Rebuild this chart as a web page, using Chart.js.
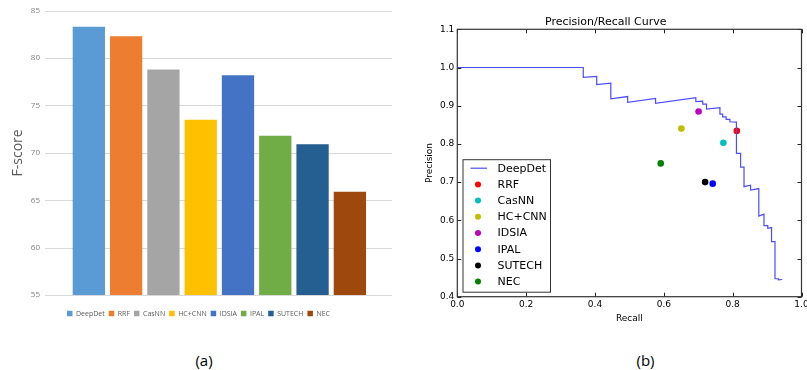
<!DOCTYPE html>
<html>
<head>
<meta charset="utf-8">
<script src="https://cdn.jsdelivr.net/npm/chart.js@4.4.1/dist/chart.umd.min.js"></script>
<style>
  html, body { margin: 0; padding: 0; background: #fff; width: 807px; height: 370px; overflow: hidden; position: relative; }
  #barWrap { position: absolute; left: 0; top: 0; width: 400px; height: 335px; }
  #prWrap { position: absolute; left: 410px; top: 0; width: 410px; height: 340px; }
  .cap { position: absolute; top: 349px; width: 40px; text-align: center; font-family: "Open Sans", sans-serif; font-size: 15px; color: #000; line-height: 22px; }
</style>
</head>
<body>
<div id="barWrap"><canvas id="bar" width="400" height="335"></canvas></div>
<div id="prWrap"><canvas id="pr" width="410" height="340"></canvas></div>
<div class="cap" style="left:184px">(a)</div>
<div class="cap" style="left:625.5px">(b)</div>
<script>
// ---------- data: bar chart (a) ----------
const methods = ['DeepDet', 'RRF', 'CasNN', 'HC+CNN', 'IDSIA', 'IPAL', 'SUTECH', 'NEC'];
const fScores = [83.3, 82.3, 78.8, 73.5, 78.2, 71.8, 70.9, 65.9];
const barColors = ['#5B9BD5', '#ED7D31', '#A5A5A5', '#FFC000', '#4472C4', '#70AD47', '#255E91', '#9E480E'];

// ---------- data: precision/recall (b) ----------
const curveRecall = [0.0, 0.366, 0.366, 0.405, 0.405, 0.446, 0.446, 0.495, 0.495, 0.576, 0.576, 0.693, 0.693, 0.713, 0.713, 0.724, 0.724, 0.763, 0.763, 0.771, 0.771, 0.781, 0.781, 0.792, 0.792, 0.811, 0.811, 0.823, 0.823, 0.833, 0.833, 0.852, 0.852, 0.876, 0.876, 0.891, 0.891, 0.902, 0.902, 0.913, 0.913, 0.923, 0.923, 0.933, 0.933, 0.944];
const curvePrecision = [1.0, 1.0, 0.974, 0.977, 0.955, 0.959, 0.918, 0.924, 0.909, 0.919, 0.906, 0.921, 0.911, 0.912, 0.904, 0.904, 0.891, 0.895, 0.878, 0.878, 0.871, 0.871, 0.864, 0.864, 0.858, 0.857, 0.775, 0.775, 0.739, 0.739, 0.688, 0.692, 0.679, 0.683, 0.611, 0.616, 0.586, 0.586, 0.579, 0.581, 0.544, 0.544, 0.447, 0.447, 0.444, 0.445];
const pointMethods = ['RRF', 'CasNN', 'HC+CNN', 'IDSIA', 'IPAL', 'SUTECH', 'NEC'];
const pointRecall = [0.812, 0.773, 0.651, 0.701, 0.742, 0.720, 0.591];
const pointPrecision = [0.834, 0.803, 0.840, 0.885, 0.696, 0.700, 0.749];
const pointColors = ['#ff0000', '#00bfbf', '#bfbf00', '#bf00bf', '#0000ff', '#000000', '#008000'];
const xTickLabels = ['0.0', '0.2', '0.4', '0.6', '0.8', '1.0'];
const yTickLabels = ['0.4', '0.5', '0.6', '0.7', '0.8', '0.9', '1.0', '1.1'];

// ---------- chart (a) ----------
const gridPlugin = {
  id: 'extGrid',
  beforeDatasetsDraw(chart) {
    const ys = chart.scales.y, ctx = chart.ctx;
    ctx.save();
    ctx.strokeStyle = '#d9d9d9';
    ctx.lineWidth = 1;
    ys.ticks.forEach(t => {
      const y = Math.round(ys.getPixelForValue(t.value)) + 0.5;
      ctx.beginPath();
      ctx.moveTo(45, y);
      ctx.lineTo(392, y);
      ctx.stroke();
    });
    ctx.restore();
  }
};

new Chart(document.getElementById('bar'), {
  type: 'bar',
  data: {
    labels: methods,
    datasets: [{
      label: 'F-score',
      data: fScores,
      backgroundColor: barColors,
      borderWidth: 0,
      barPercentage: 0.866,
      categoryPercentage: 1.0
    }]
  },
  options: {
    responsive: false,
    animation: false,
    layout: { padding: { left: 28.5, right: 31.5, top: 10.7, bottom: 8 } },
    scales: {
      x: {
        display: true, offset: true,
        ticks: { display: false },
        grid: { display: false, drawTicks: false },
        border: { display: false },
        afterFit: s => { s.height = 11; }
      },
      y: {
        min: 55, max: 85,
        ticks: { stepSize: 5, font: { family: 'Open Sans', size: 8 }, color: '#7f7f7f', padding: 3 },
        grid: { display: true, drawOnChartArea: false, drawTicks: true, tickLength: 27.2, color: 'rgba(0,0,0,0)' },
        border: { display: false },
        title: { display: true, text: 'F-score', font: { family: 'Open Sans', size: 14 }, color: '#595959', padding: { top: -18.6, bottom: 0 } },
        afterFit: s => { s.width = 41.7; }
      }
    },
    plugins: {
      tooltip: { enabled: false },
      legend: {
        position: 'bottom',
        labels: {
          font: { family: 'Open Sans', size: 7 },
          color: '#595959',
          boxWidth: 5.5, boxHeight: 5.5, padding: 4,
          generateLabels: chart => {
            const ds = chart.data.datasets[0];
            return chart.data.labels.map((l, i) => ({
              text: l, fillStyle: ds.backgroundColor[i], strokeStyle: ds.backgroundColor[i],
              lineWidth: 0, hidden: false, index: i, fontColor: '#595959'
            }));
          }
        }
      }
    }
  },
  plugins: [gridPlugin]
});

// ---------- chart (b) ----------
const framePlugin = {
  id: 'mplFrame',
  afterDatasetsDraw(chart) {
    const {ctx, chartArea: a} = chart;
    const xs = chart.scales.x, ys = chart.scales.y;
    ctx.save();
    ctx.strokeStyle = '#222';
    ctx.lineWidth = 1;
    ctx.beginPath();
    xs.ticks.forEach(t => {
      const x = Math.round(xs.getPixelForValue(t.value)) + 0.5;
      ctx.moveTo(x, a.bottom); ctx.lineTo(x, a.bottom - 4);
      ctx.moveTo(x, a.top); ctx.lineTo(x, a.top + 4);
    });
    ys.ticks.forEach(t => {
      const y = Math.round(ys.getPixelForValue(t.value)) + 0.5;
      ctx.moveTo(a.left, y); ctx.lineTo(a.left + 4, y);
      ctx.moveTo(a.right, y); ctx.lineTo(a.right - 4, y);
    });
    ctx.stroke();
    ctx.strokeStyle = '#333';
    ctx.lineWidth = 1.2;
    ctx.strokeRect(a.left, a.top, a.right - a.left, a.bottom - a.top);

    // legend box (matplotlib style)
    const lx = a.left + 5.2, ly = a.bottom - 137.5, lw = 87.5, lh = 132.5;
    ctx.fillStyle = '#fff';
    ctx.fillRect(lx, ly, lw, lh);
    ctx.strokeStyle = '#333';
    ctx.lineWidth = 1;
    ctx.strokeRect(lx + 0.5, ly + 0.5, lw, lh);
    ctx.font = '11px "DejaVu Sans"';
    ctx.textBaseline = 'middle';
    ctx.textAlign = 'left';
    chart.data.datasets.forEach((ds, i) => {
      const cy = ly + 9 + i * 16.2;
      if (i === 0) {
        ctx.strokeStyle = ds.borderColor; ctx.lineWidth = 1.2;
        ctx.beginPath(); ctx.moveTo(lx + 8, cy); ctx.lineTo(lx + 24.5, cy); ctx.stroke();
      } else {
        ctx.fillStyle = ds.backgroundColor;
        ctx.beginPath(); ctx.arc(lx + 15.5, cy, 3, 0, Math.PI * 2); ctx.fill();
      }
      ctx.fillStyle = '#000';
      ctx.fillText(ds.label, lx + 35, cy + 0.5);
    });
    ctx.restore();
  }
};

const prDatasets = [{
  label: 'DeepDet',
  data: curveRecall.map((r, i) => ({ x: r, y: curvePrecision[i] })),
  showLine: true,
  borderColor: '#4b4bff',
  backgroundColor: '#4b4bff',
  borderWidth: 1.2,
  pointRadius: 0,
  tension: 0
}].concat(pointMethods.map((m, i) => ({
  label: m,
  data: [{ x: pointRecall[i], y: pointPrecision[i] }],
  backgroundColor: pointColors[i],
  borderColor: pointColors[i],
  borderWidth: 0,
  pointRadius: 3.3
})));

new Chart(document.getElementById('pr'), {
  type: 'scatter',
  data: { datasets: prDatasets },
  options: {
    responsive: false,
    animation: false,
    layout: { padding: { left: 0, right: 18.5, top: 0, bottom: 0 } },
    scales: {
      x: {
        type: 'linear', min: 0, max: 1,
        ticks: { stepSize: 0.2, font: { family: 'DejaVu Sans', size: 9 }, color: '#000', padding: 3,
          callback: (v, i) => xTickLabels[i] },
        grid: { display: false, drawTicks: false },
        border: { display: false },
        title: { display: true, text: 'Recall', font: { family: 'DejaVu Sans', size: 9 }, color: '#000', padding: { top: 0, bottom: 16.3 } },
        afterFit: s => { s.height = 43.3; }
      },
      y: {
        type: 'linear', min: 0.4, max: 1.1,
        ticks: { stepSize: 0.1, font: { family: 'DejaVu Sans', size: 9 }, color: '#000', padding: 3,
          callback: (v, i) => yTickLabels[i] },
        grid: { display: false, drawTicks: false },
        border: { display: false },
        title: { display: true, text: 'Precision', font: { family: 'DejaVu Sans', size: 9 }, color: '#000', padding: { top: 14.6, bottom: 0 } },
        afterFit: s => { s.width = 47.3; }
      }
    },
    plugins: {
      tooltip: { enabled: false },
      legend: { display: false },
      title: { display: true, text: 'Precision/Recall Curve', font: { family: 'DejaVu Sans', size: 11, weight: 'normal' }, color: '#000', padding: { top: 16, bottom: 0.1 } }
    }
  },
  plugins: [framePlugin]
});
</script>
</body>
</html>
